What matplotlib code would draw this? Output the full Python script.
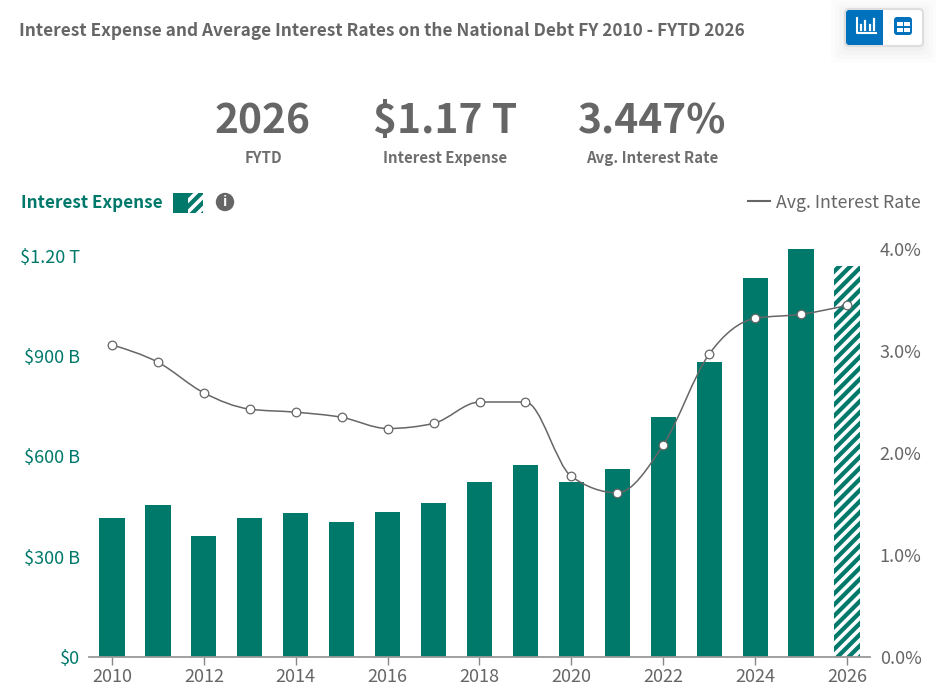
import numpy as np
import matplotlib
matplotlib.use("Agg")
import matplotlib.pyplot as plt
from matplotlib.path import Path
from matplotlib.patches import PathPatch, FancyBboxPatch, Rectangle, Circle

plt.rcParams['font.family'] = ['Noto Sans CJK SC', 'DejaVu Sans']
plt.rcParams['hatch.linewidth'] = 2.6

years = list(range(2010, 2027))
expense = [416, 455, 362, 416, 431, 404, 434, 461, 524, 575, 524, 563, 718, 883, 1135, 1222, 1170]
rates = [3.06, 2.89, 2.59, 2.43, 2.40, 2.35, 2.24, 2.29, 2.50, 2.50, 1.77, 1.61, 2.08, 2.97, 3.32, 3.36, 3.447]
left_ticks = [0, 300, 600, 900, 1200]
left_labels = ['$0', '$300 B', '$600 B', '$900 B', '$1.20 T']
right_ticks = [0, 1, 2, 3, 4]
right_labels = ['0.0%', '1.0%', '2.0%', '3.0%', '4.0%']
x_ticks = years[::2]

GREEN = '#00796B'
GRAY = '#666666'
W, H = 937, 698
fig = plt.figure(figsize=(W/100, H/100), dpi=100)

def fx(p): return p/W
def fy(p): return 1-p/H

L, R, T, B = 89, 870, 249, 657
ax = fig.add_axes([fx(L), fy(B), (R-L)/W, (B-T)/H])
ax.set_xlim(2009.5, 2026.5)
ax.set_ylim(0, 408/0.3343)
ax.bar(years[:-1], expense[:-1], width=0.55, color=GREEN, zorder=2)
ax.bar(years[-1:], expense[-1:], width=0.55, color=GREEN, edgecolor='white', hatch='///', linewidth=0, zorder=2)
ax.set_yticks(left_ticks)
ax.set_yticklabels(left_labels, color=GREEN, fontsize=13)
ax.tick_params(axis='y', length=0, pad=6.5)
ax.set_xticks(x_ticks)
ax.set_xticklabels([str(y) for y in x_ticks], color=GRAY, fontsize=13)
ax.tick_params(axis='x', length=6, width=1, color='#888888', pad=2)
for s in ['top', 'left', 'right']:
    ax.spines[s].set_visible(False)
ax.spines['bottom'].set_color('#999999')
ax.spines['bottom'].set_linewidth(1.3)
ax.patch.set_alpha(0)

ax2 = ax.twinx()
ax2.set_ylim(0, 4)
ax2.set_yticks(right_ticks)
ax2.set_yticklabels(right_labels, color=GRAY, fontsize=13)
ax2.tick_params(axis='y', length=0, pad=7)
for s in ['top', 'left', 'right', 'bottom']:
    ax2.spines[s].set_visible(False)

# monotone cubic path through the rate values
xs = np.array(years, float)
ys = np.array(rates, float)
h = np.diff(xs)
s = np.diff(ys)/h
m = np.zeros_like(ys)
for i in range(1, len(xs)-1):
    p = (s[i-1]*h[i]+s[i]*h[i-1])/(h[i-1]+h[i])
    m[i] = (np.sign(s[i-1])+np.sign(s[i]))*min(abs(s[i-1]), abs(s[i]), 0.5*abs(p))
m[0] = (3*s[0]-m[1])/2
m[-1] = (3*s[-1]-m[-2])/2
verts = [(xs[0], ys[0])]
codes = [Path.MOVETO]
for i in range(len(xs)-1):
    d = h[i]/3
    verts += [(xs[i]+d, ys[i]+d*m[i]), (xs[i+1]-d, ys[i+1]-d*m[i+1]), (xs[i+1], ys[i+1])]
    codes += [Path.CURVE4]*3
ax2.add_patch(PathPatch(Path(verts, codes), fill=False, edgecolor=GRAY, linewidth=1.1, zorder=3))
ax2.plot(years, rates, ls='none', marker='o', ms=6.2, mfc='white', mec=GRAY, mew=0.9, zorder=4)

def t(x, y, s, **kw):
    kw.setdefault('ha', 'left'); kw.setdefault('va', 'center')
    fig.text(fx(x), fy(y), s, **kw)

t(19, 31, 'Interest Expense and Average Interest Rates on the National Debt FY 2010 - FYTD 2026',
  fontsize=12.43, fontweight='bold', color=GRAY)
for cx, big, small in [(263, '2026', 'FYTD'), (445, '$1.17 T', 'Interest Expense'), (652, '3.447%', 'Avg. Interest Rate')]:
    t(cx, 122, big, ha='center', fontsize=29.3, fontweight='bold', color=GRAY)
    t(cx, 158, small, ha='center', fontsize=10.8, fontweight='bold', color='#6E6E6E')
t(21, 203, 'Interest Expense', fontsize=12.3, fontweight='bold', color=GREEN)
t(776, 203, 'Avg. Interest Rate', fontsize=12.8, color=GRAY)

ov = fig.add_axes([0, 0, 1, 1], zorder=-1)
ov.set_xlim(0, W); ov.set_ylim(H, 0); ov.axis('off')
ov2 = fig.add_axes([0, 0, 1, 1], zorder=5)
ov2.set_xlim(0, W); ov2.set_ylim(H, 0); ov2.axis('off'); ov2.patch.set_alpha(0)

# legend swatches, info icon, legend line
ov2.add_patch(Rectangle((173, 193), 15, 20, fc=GREEN, ec='none'))
ov2.add_patch(Rectangle((188, 193), 15, 20, fc=GREEN, ec='white', hatch='///', lw=0))
ov2.add_patch(Circle((225, 202), 9.2, fc=GRAY, ec='none'))
ov2.text(225, 202, 'i', color='white', fontsize=10, fontweight='bold', ha='center', va='center')
ov2.plot([748, 770], [201, 201], color=GRAY, lw=1.5)

# button group
for i, a in enumerate([0.012, 0.012, 0.015, 0.02]):
    g = 14-4*i
    ov.add_patch(FancyBboxPatch((845-g, 9-g+3), 78+2*g, 37+2*g, boxstyle='round,pad=0,rounding_size=6', fc='black', ec='none', alpha=a))
ov.add_patch(FancyBboxPatch((845, 9), 78, 37, boxstyle='round,pad=0,rounding_size=4', fc='white', ec='#DEDEDE', lw=1.5))
BLUE = '#0071BC'
ov2.add_patch(FancyBboxPatch((846, 10), 37, 35, boxstyle='round,pad=0,rounding_size=3', fc=BLUE, ec='none'))
ov2.add_patch(Rectangle((865, 10), 18, 35, fc=BLUE, ec='none'))
ov2.plot([857, 857, 876], [18, 33, 33], color='white', lw=1.5)
for x, top in [(861, 25), (865.5, 21), (870, 25), (874, 19)]:
    ov2.plot([x, x], [top, 30], color='white', lw=1.6)
ov2.add_patch(FancyBboxPatch((894, 17), 18, 18, boxstyle='round,pad=0,rounding_size=3', fc=BLUE, ec='none'))
for rx, ry in [(897, 21.5), (904, 21.5), (897, 28), (904, 28)]:
    ov2.add_patch(Rectangle((rx, ry), 6, 4, fc='white', ec='none'))

fig.savefig('out.png', dpi=100)
